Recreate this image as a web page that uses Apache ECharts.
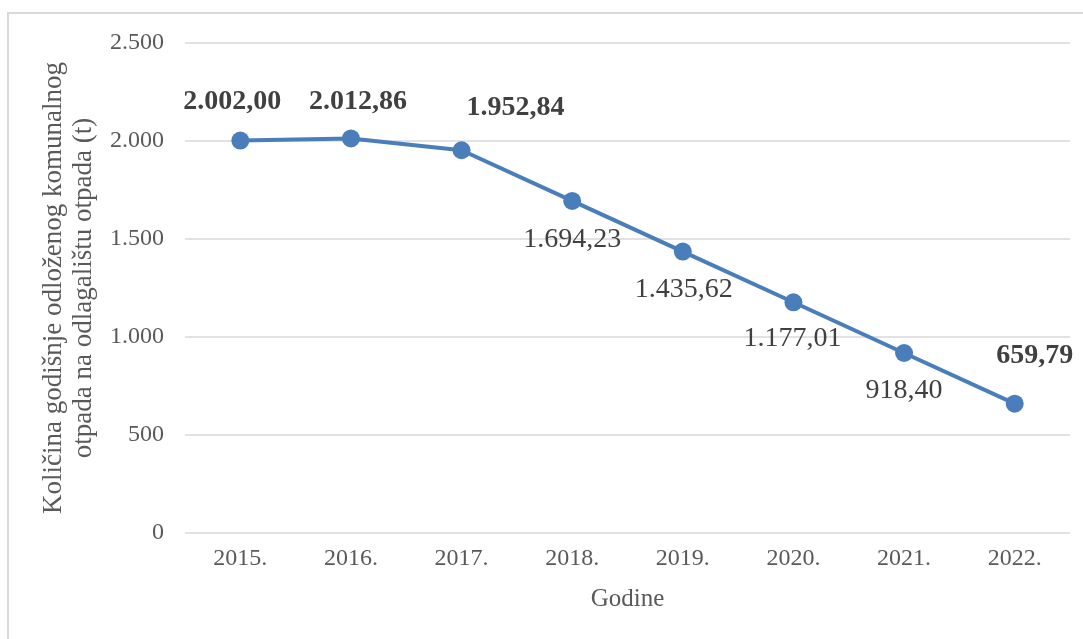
<!DOCTYPE html>
<html>
<head>
<meta charset="utf-8">
<script src="https://cdn.jsdelivr.net/npm/echarts@6/dist/echarts.min.js"></script>
<style>html,body{margin:0;padding:0;background:#fff;}#c{width:1083px;height:639px;}</style>
</head>
<body>
<div id="c"></div>
<script>
const categories = ['2015.', '2016.', '2017.', '2018.', '2019.', '2020.', '2021.', '2022.'];
const values = [2002.00, 2012.86, 1952.84, 1694.23, 1435.62, 1177.01, 918.40, 659.79];
const boldLabels = [true, true, true, false, false, false, false, true];
const labelOffsets = [[-8, -39], [7, -37], [54, -42], [0, 39], [1, 38], [-1, 36], [0, 38], [20, -48]];
const yTitle = 'Količina godišnje odloženog komunalnog\notpada na odlagalištu otpada (t)';
const xTitle = 'Godine';

function fmt(v, dec) {
  const s = v.toFixed(dec);
  const parts = s.split('.');
  const intPart = parts[0].replace(/\B(?=(\d{3})+(?!\d))/g, '.');
  return parts.length > 1 ? intPart + ',' + parts[1] : intPart;
}

const FONT = '"Liberation Serif", "Times New Roman", serif';
const chart = echarts.init(document.getElementById('c'), null, {renderer: 'canvas'});
chart.setOption({
  backgroundColor: '#ffffff',
  animation: false,
  graphic: [{
    type: 'rect',
    shape: {x: 8, y: 13, width: 1300, height: 900},
    style: {fill: 'none', stroke: '#d9d9d9', lineWidth: 2},
    silent: true, z: -1
  }],
  grid: {left: 185, right: 13, top: 43, bottom: 106, containLabel: false},
  xAxis: {
    type: 'category',
    data: categories,
    boundaryGap: true,
    axisLine: {show: false},
    axisTick: {show: false},
    axisLabel: {color: '#595959', fontFamily: FONT, fontSize: 24, margin: 14},
    name: xTitle,
    nameLocation: 'middle',
    nameGap: 54,
    nameTextStyle: {color: '#595959', fontFamily: FONT, fontSize: 25}
  },
  yAxis: {
    type: 'value',
    min: 0, max: 2500, interval: 500,
    axisLine: {show: false},
    axisTick: {show: false},
    splitLine: {lineStyle: {color: '#d9d9d9', width: 1.5}},
    axisLabel: {color: '#595959', fontFamily: FONT, fontSize: 24, margin: 21,
      formatter: v => fmt(v, 0)},
    name: yTitle,
    nameLocation: 'middle',
    nameGap: 82,
    nameRotate: 90,
    nameTextStyle: {color: '#595959', fontFamily: FONT, fontSize: 27, lineHeight: 30}
  },
  series: [{
    type: 'line',
    data: values.map((v, i) => ({
      value: v,
      label: {
        show: true,
        position: 'inside',
        offset: labelOffsets[i],
        formatter: () => fmt(v, 2),
        fontWeight: boldLabels[i] ? 'bold' : 'normal',
        fontFamily: FONT,
        fontSize: 28,
        color: '#404040'
      }
    })),
    symbol: 'circle',
    symbolSize: 18,
    lineStyle: {color: '#4a7ebb', width: 4},
    itemStyle: {color: '#4a7ebb'}
  }]
});
</script>
</body>
</html>
